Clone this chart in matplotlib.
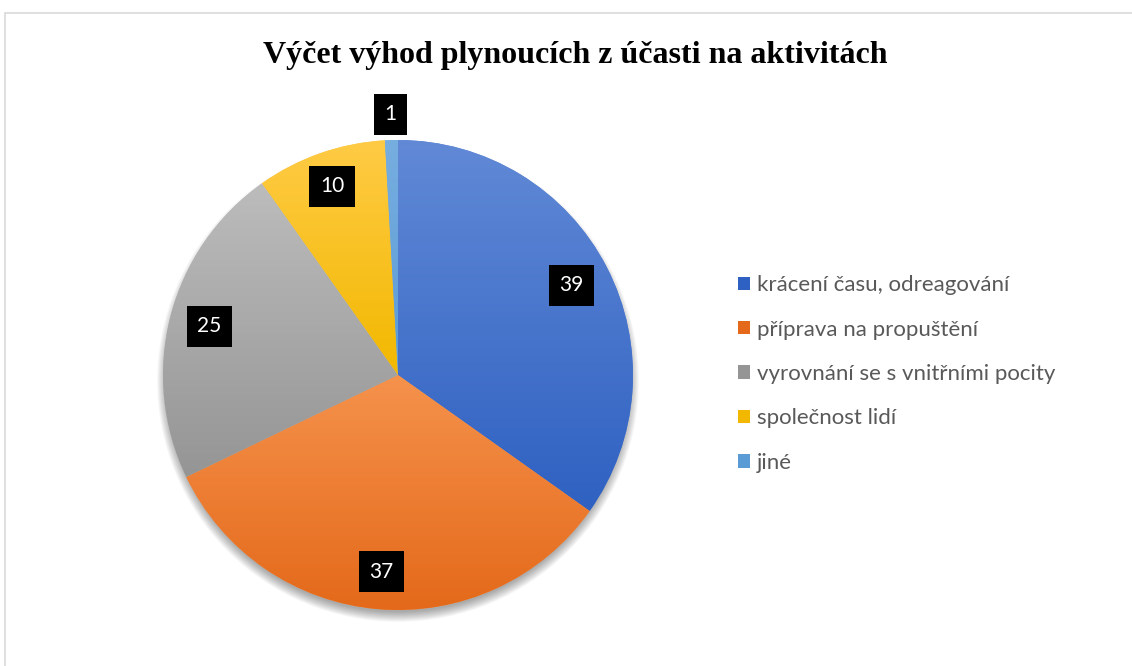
import matplotlib
matplotlib.use("Agg")
import matplotlib.pyplot as plt
import numpy as np
from matplotlib.colors import LinearSegmentedColormap
from matplotlib.patches import Circle, Rectangle

categories = [
    "krácení času, odreagování",
    "příprava na propuštění",
    "vyrovnání se s vnitřními pocity",
    "společnost lidí",
    "jiné",
]
values = [39, 37, 25, 10, 1]
title = "Výčet výhod plynoucích z účasti na aktivitách"

# light (top) / dark (bottom) gradient colours per slice
light_colors = ["#6189d6", "#f5924c", "#bcbcbc", "#ffcb45", "#77aee0"]
dark_colors = ["#2f61c2", "#e4691a", "#959595", "#f2b800", "#5b9bd5"]
label_dist = [0.83, 0.84, 0.83, 0.85, 1.11]

W, H = 1132, 666
cx, cy, R = 398, H - 375, 235

fig = plt.figure(figsize=(W / 100, H / 100), dpi=100)
ax = fig.add_axes([0, 0, 1, 1])

# chart border
ax.add_patch(Rectangle((4.5, -20), W + 40, H - 12 + 20 - 0.5, fill=False,
                       edgecolor="#d9d9d9", linewidth=1.2, zorder=0))

# soft drop shadow, mostly below the pie
for i in range(12):
    ax.add_patch(Circle((cx, cy - 6), R - 4 + i * 0.9, color="black",
                        alpha=0.03, linewidth=0, zorder=1))

wedges, _ = ax.pie(values, startangle=90, counterclock=False, center=(cx, cy),
                   radius=R, colors=light_colors, frame=True,
                   wedgeprops=dict(linewidth=0))

grad = np.linspace(0, 1, 256).reshape(-1, 1)
for w, c1, c2 in zip(wedges, light_colors, dark_colors):
    w.set_zorder(2)
    bb = w.get_path().get_extents(w.get_patch_transform())
    cmap = LinearSegmentedColormap.from_list("g", [c1, c2])
    im = ax.imshow(grad, cmap=cmap, aspect="auto", origin="upper",
                   extent=(bb.x0, bb.x1, bb.y0, bb.y1), zorder=3)
    im.set_clip_path(w)

for w, v, d in zip(wedges, values, label_dist):
    ang = np.deg2rad((w.theta1 + w.theta2) / 2)
    x = cx + d * R * np.cos(ang)
    y = cy + d * R * np.sin(ang)
    ax.text(x, y, str(v), ha="center", va="center", color="white",
            fontsize=15, family="Lato", zorder=5,
            bbox=dict(boxstyle="square,pad=0.5", facecolor="black", edgecolor="none"))

ax.set_xlim(0, W)
ax.set_ylim(0, H)
ax.set_aspect("equal")
ax.axis("off")

fig.text(575 / W, 1 - 55 / H, title, ha="center", va="center",
         fontsize=23, fontweight="bold", family="Liberation Serif", color="black")

handles = [Rectangle((0, 0), 1, 1, facecolor=c, edgecolor="none") for c in dark_colors]
fig.legend(handles, categories, loc="center left",
           bbox_to_anchor=(727 / W, 1 - 374 / H), frameon=False,
           prop=dict(family="Lato", size=16), labelcolor="#595959",
           handlelength=0.55, handleheight=0.55, handletextpad=0.3,
           labelspacing=1.1, borderpad=0)

fig.savefig("out.png", dpi=100)
